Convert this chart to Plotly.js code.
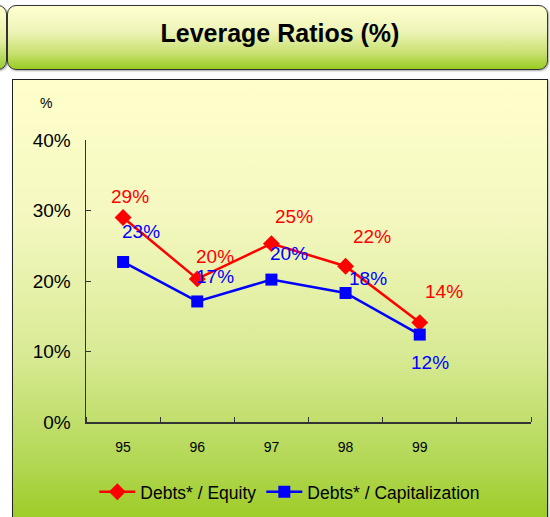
<!DOCTYPE html>
<html>
<head>
<meta charset="utf-8">
<script src="https://cdn.plot.ly/plotly-3.0.1.min.js"></script>
<style>
  html, body { margin: 0; padding: 0; width: 550px; height: 517px; overflow: hidden; background: #ffffff; }
  #stage { position: relative; width: 550px; height: 517px; }
  .box { position: absolute; box-sizing: border-box; }
  #sliver { left: -60px; top: 5px; width: 67px; height: 65px; border: 1px solid #333; border-radius: 9px;
    background: linear-gradient(#ffffd0, #e4efa0 55%, #99cc33); box-shadow: 1px 1px 2px rgba(0,0,0,0.35); }
  #titlebox { left: 7px; top: 5px; width: 541px; height: 65px; border: 1px solid #333; border-radius: 9px;
    background: linear-gradient(#ffffd0, #eef4b8 40%, #c8e070 75%, #99cc22); box-shadow: 1px 1px 2px rgba(0,0,0,0.35); }
  #panel { left: 12px; top: 79px; width: 536px; height: 460px; border: 1.5px solid #222;
    background: linear-gradient(#ffffcc 0%, #f4f8c0 30%, #d8ea94 60%, #b0d650 85%, #96c814 100%); box-shadow: 1px 1px 2px rgba(0,0,0,0.3); }
  #chart { position: absolute; left: 0; top: 0; width: 550px; height: 517px; }
</style>
</head>
<body>
<div id="stage">
  <div class="box" id="sliver"></div>
  <div class="box" id="titlebox"></div>
  <div class="box" id="panel"></div>
  <div id="chart"></div>
</div>
<script>
// ---- data ----
const categories = ['95', '96', '97', '98', '99'];
const equityName = 'Debts* / Equity';
const capName = 'Debts* / Capitalization';
const equityValues = [29.0, 20.3, 25.3, 22.1, 14.1];
const capValues = [22.7, 17.1, 20.2, 18.3, 12.4];
const yTickValues = [0, 10, 20, 30, 40];
const yTickLabels = ['0%', '10%', '20%', '30%', '40%'];

// ---- label offsets (pixels, style only) ----
const equityLabelShift = [[7, 21], [18, 22], [23, 27], [26, 30], [24, 31]];
const capLabelShift = [[18, 30], [18, 25], [18, 26], [22, 14], [10, -28]];

const FONT = 'Arial, "Liberation Sans", sans-serif';
const RED = '#ff0000';
const BLUE = '#0000ff';
const AXIS = '#333333';

const xIdx = categories.map((c, i) => i);

const traces = [
  {
    x: xIdx, y: equityValues, name: equityName, type: 'scatter', mode: 'lines+markers',
    line: { color: RED, width: 2.5 },
    marker: { symbol: 'diamond', size: 13, color: RED },
    cliponaxis: false
  },
  {
    x: xIdx, y: capValues, name: capName, type: 'scatter', mode: 'lines+markers',
    line: { color: BLUE, width: 2.5 },
    marker: { symbol: 'square', size: 12, color: BLUE },
    cliponaxis: false
  }
];

const annotations = [];
equityValues.forEach((v, i) => {
  annotations.push({
    x: xIdx[i], y: v, xref: 'x', yref: 'y', text: Math.round(v) + '%', showarrow: false,
    xanchor: 'center', yanchor: 'middle',
    xshift: equityLabelShift[i][0], yshift: equityLabelShift[i][1],
    font: { family: FONT, size: 19, color: RED }
  });
});
capValues.forEach((v, i) => {
  annotations.push({
    x: xIdx[i], y: v, xref: 'x', yref: 'y', text: Math.round(v) + '%', showarrow: false,
    xanchor: 'center', yanchor: 'middle',
    xshift: capLabelShift[i][0], yshift: capLabelShift[i][1],
    font: { family: FONT, size: 19, color: BLUE }
  });
});
annotations.push({
  x: -0.09, y: 1.131, xref: 'paper', yref: 'paper', text: '%', showarrow: false,
  xanchor: 'center', yanchor: 'middle',
  font: { family: FONT, size: 14, color: '#000' }
});

const layout = {
  width: 550, height: 517,
  margin: { l: 86, r: 19, t: 140, b: 95, autoexpand: false },
  paper_bgcolor: 'rgba(0,0,0,0)',
  plot_bgcolor: 'rgba(0,0,0,0)',
  title: {
    text: '<b>Leverage Ratios (%)</b>',
    font: { family: FONT, size: 25, color: '#000' },
    xref: 'container', yref: 'container', x: 0.509, y: 0.936, xanchor: 'center', yanchor: 'middle'
  },
  xaxis: {
    type: 'linear', range: [-0.5, 5.5],
    tickvals: xIdx, ticktext: categories,
    ticks: '', showgrid: false, zeroline: false, automargin: false,
    showline: true, linecolor: AXIS, linewidth: 1.5,
    tickfont: { family: FONT, size: 14, color: '#000' },
    ticklabelstandoff: 12,
    minor: { ticks: 'inside', ticklen: 5, tickwidth: 1, tickcolor: AXIS, tick0: -0.5, dtick: 1, showgrid: false }
  },
  yaxis: {
    range: [0, 40], tickvals: yTickValues, ticktext: yTickLabels,
    ticks: 'inside', ticklen: 5, tickwidth: 1, tickcolor: AXIS,
    showgrid: false, zeroline: false, automargin: false,
    showline: true, linecolor: AXIS, linewidth: 1.5,
    tickfont: { family: FONT, size: 19, color: '#000' },
    ticklabelstandoff: 10
  },
  showlegend: true,
  legend: {
    orientation: 'h', x: 0.458, y: -0.248, xanchor: 'center', yanchor: 'middle',
    xref: 'paper', yref: 'paper',
    bgcolor: 'rgba(0,0,0,0)',
    font: { family: FONT, size: 17.5, color: '#000' },
    itemwidth: 36, tracegroupgap: 0
  },
  annotations: annotations
};

Plotly.newPlot('chart', traces, layout, { displayModeBar: false, staticPlot: true });
</script>
</body>
</html>
